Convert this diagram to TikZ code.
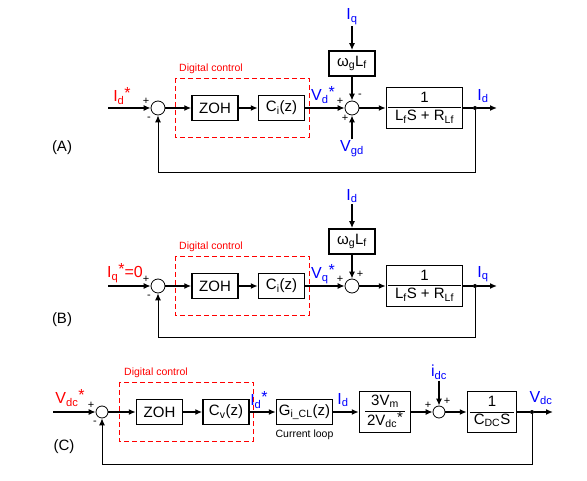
\documentclass[tikz,border=0pt]{standalone}
\usepackage{fontspec}
\setmainfont{Liberation Sans}
\usetikzlibrary{arrows.meta,positioning}
\newcommand{\lo}[1]{\textsubscript{#1}}
\newcommand{\st}{\raisebox{3pt}{*}}
\newcommand{\blockfrac}[3]{{\setlength{\tabcolsep}{#3}\setlength{\arrayrulewidth}{1pt}\begin{tabular}{c}#1\\\hline #2\end{tabular}}}
\tikzset{
    block/.style = {
        draw,
        line width=1.5pt,
        minimum width=46pt,
        minimum height=25pt,
        inner sep=1pt,
        font=\fontsize{15}{17}\selectfont,
        },
    frac block/.style = {
        block,
        minimum height=41pt,
        inner sep=0pt,
        },
    summer/.style = {
        draw, circle,
        minimum size=14pt,
        inner sep=0pt,
        line width=0.8pt,
        },
    sig/.style = {
        line width=1.3pt,
        -{Latex[length=7pt,width=6pt]},
        },
    fb/.style = {
        sig,
        line width=1pt,
        },
    tap/.style = {
        circle, fill,
        inner sep=0pt,
        minimum size=4pt,
        },
    sgn/.style = {
        font=\fontsize{11}{11}\selectfont,
        inner sep=0pt,
        },
    ref red/.style = {
        red,
        font=\fontsize{16}{18}\selectfont,
        inner sep=1pt,
        },
    ref blue/.style = {
        ref red,
        blue,
        },
    digital/.style = {
        draw=red,
        dash pattern=on 5pt off 3pt,
        line width=0.8pt,
        },
    digital label/.style = {
        red,
        font=\fontsize{10.5}{12}\selectfont,
        },
    case label/.style = {
        font=\fontsize{15}{17}\selectfont,
        },
}
\begin{document}
\begin{tikzpicture}[x=1pt, y=-1pt]
    \useasboundingbox (0,0) rectangle (587,481);

    % (A)
    \coordinate (inA) at (108,108);
    \node[summer] (sumA1) at (158,108) {};
    \node[block] (zohA) at (215,108) {ZOH};
    \node[block] (ciA) at (281.5,108) {C\lo{i}(z)};
    \node[summer] (sumA2) at (352,108) {};
    \node[block, above=24pt of sumA2] (wA) {ω\lo{g}L\lo{f}};
    \node[ref blue, above=24pt of wA] (IqA) {I\lo{q}};
    \node[ref blue, below=24pt of sumA2] (VgdA) {V\lo{gd}};
    \node[frac block, minimum width=76pt] (plantA) at (424.5,108) {\blockfrac{1}{L\lo{f}S + R\lo{Lf}}{7pt}};
    \node[tap] (dotA) at (475,108) {};
    \coordinate (outA) at (497,108);

    \node[ref red] (IdrefA) at (122,96) {I\lo{d}\st};
    \node[ref blue] (VdA) at (323,95) {V\lo{d}\st};
    \node[ref blue] (IdA) at (483,96) {I\lo{d}};
    \node[sgn] (pA1) at ([shift={(-12pt,7pt)}]sumA1) {+};
    \node[sgn] (mA1) at ([shift={(-9pt,-11pt)}]sumA1) {-};
    \node[sgn] (pA2) at ([shift={(-12pt,7pt)}]sumA2) {+};
    \node[sgn] (mA2) at ([shift={(8pt,12pt)}]sumA2) {-};
    \node[sgn] (qA2) at ([shift={(-7pt,-10pt)}]sumA2) {+};

    \draw[digital] (175,78) rectangle (309,137);
    \node[digital label] (dcA) at (211,69) {Digital control};
    \node[case label] (tagA) at (62,148) {(A)};

    \draw[sig] (inA) -- (sumA1);
    \draw[sig] (sumA1) -- (zohA);
    \draw[sig] (zohA) -- (ciA);
    \draw[sig] (ciA) -- (sumA2);
    \draw[sig] (IqA) -- (wA);
    \draw[sig] (wA) -- (sumA2);
    \draw[sig] (VgdA) -- (sumA2);
    \draw[sig] (sumA2) -- (plantA);
    \draw[line width=1.3pt] (plantA) -- (dotA);
    \draw[sig] (dotA) -- (outA);
    \draw[fb] (dotA) -- ++(0,65) -| (sumA1);

    % (B)
    \coordinate (inB) at (108,286);
    \node[summer] (sumB1) at (158,286) {};
    \node[block] (zohB) at (215,286) {ZOH};
    \node[block] (ciB) at (281.5,286) {C\lo{i}(z)};
    \node[summer] (sumB2) at (352,286) {};
    \node[block, above=24pt of sumB2] (wB) {ω\lo{g}L\lo{f}};
    \node[ref blue, above=24pt of wB] (IdB) {I\lo{d}};
    \node[frac block, minimum width=76pt] (plantB) at (424.5,286) {\blockfrac{1}{L\lo{f}S + R\lo{Lf}}{7pt}};
    \node[tap] (dotB) at (475,286) {};
    \coordinate (outB) at (497,286);

    \node[ref red] (IqrefB) at (125,273) {I\lo{q}\st=0};
    \node[ref blue] (VqB) at (323,274) {V\lo{q}\st};
    \node[ref blue] (IqB) at (483,274) {I\lo{q}};
    \node[sgn] (pB1) at ([shift={(-12pt,7pt)}]sumB1) {+};
    \node[sgn] (mB1) at ([shift={(-9pt,-11pt)}]sumB1) {-};
    \node[sgn] (pB2) at ([shift={(-12pt,7pt)}]sumB2) {+};
    \node[sgn] (qB2) at ([shift={(8pt,12pt)}]sumB2) {+};

    \draw[digital] (175,256) rectangle (309,315);
    \node[digital label] (dcB) at (211,247) {Digital control};
    \node[case label] (tagB) at (62,320) {(B)};

    \draw[sig] (inB) -- (sumB1);
    \draw[sig] (sumB1) -- (zohB);
    \draw[sig] (zohB) -- (ciB);
    \draw[sig] (ciB) -- (sumB2);
    \draw[sig] (IdB) -- (wB);
    \draw[sig] (wB) -- (sumB2);
    \draw[sig] (sumB2) -- (plantB);
    \draw[line width=1.3pt] (plantB) -- (dotB);
    \draw[sig] (dotB) -- (outB);
    \draw[fb] (dotB) -- ++(0,52) -| (sumB1);

    % (C)
    \coordinate (inC) at (53,412);
    \node[summer, minimum size=12pt] (sumC1) at (102,412) {};
    \node[block] (zohC) at (159.5,412) {ZOH};
    \node[block] (cvC) at (226,412) {C\lo{v}(z)};
    \node[block, minimum width=56pt] (gC) at (304.5,412) {G\lo{i\_CL}(z)};
    \node[font=\fontsize{10.5}{12}\selectfont, below=1pt of gC] (loopC) {Current loop};
    \node[frac block, minimum width=51pt] (kC) at (385,412) {\blockfrac{3V\lo{m}}{2V\lo{dc}\st}{2pt}};
    \node[summer, minimum size=12pt] (sumC2) at (439,412) {};
    \node[ref blue, above=25pt of sumC2] (idcC) {i\lo{dc}};
    \node[frac block, minimum width=49pt] (capC) at (492,412) {\blockfrac{1}{C\lo{DC}S}{4pt}};
    \node[tap] (dotC) at (532,412) {};
    \coordinate (outC) at (553,412);

    \node[ref red] (VrefC) at (70,398) {V\lo{dc}\st};
    \node[ref blue] (IdrefC) at (259,400) {I\lo{d}\st};
    \node[ref blue] (IdC) at (343,400) {I\lo{d}};
    \node[ref blue] (VdcC) at (541,398) {V\lo{dc}};
    \node[sgn] (pC1) at ([shift={(-11pt,7pt)}]sumC1) {+};
    \node[sgn] (mC1) at ([shift={(-7pt,-11pt)}]sumC1) {-};
    \node[sgn] (pC2) at ([shift={(-11pt,7pt)}]sumC2) {+};
    \node[sgn] (qC2) at ([shift={(8pt,11pt)}]sumC2) {+};

    \draw[digital] (119,382) rectangle (253,441);
    \node[digital label] (dcC) at (156,373) {Digital control};
    \node[case label] (tagC) at (64,447) {(C)};

    \draw[sig] (inC) -- (sumC1);
    \draw[sig] (sumC1) -- (zohC);
    \draw[sig] (zohC) -- (cvC);
    \draw[sig] (cvC) -- (gC);
    \draw[sig] (gC) -- (kC);
    \draw[sig] (kC) -- (sumC2);
    \draw[sig] (idcC) -- (sumC2);
    \draw[sig] (sumC2) -- (capC);
    \draw[line width=1.3pt] (capC) -- (dotC);
    \draw[sig] (dotC) -- (outC);
    \draw[fb] (dotC) -- ++(0,52) -| (sumC1);
\end{tikzpicture}
\end{document}
